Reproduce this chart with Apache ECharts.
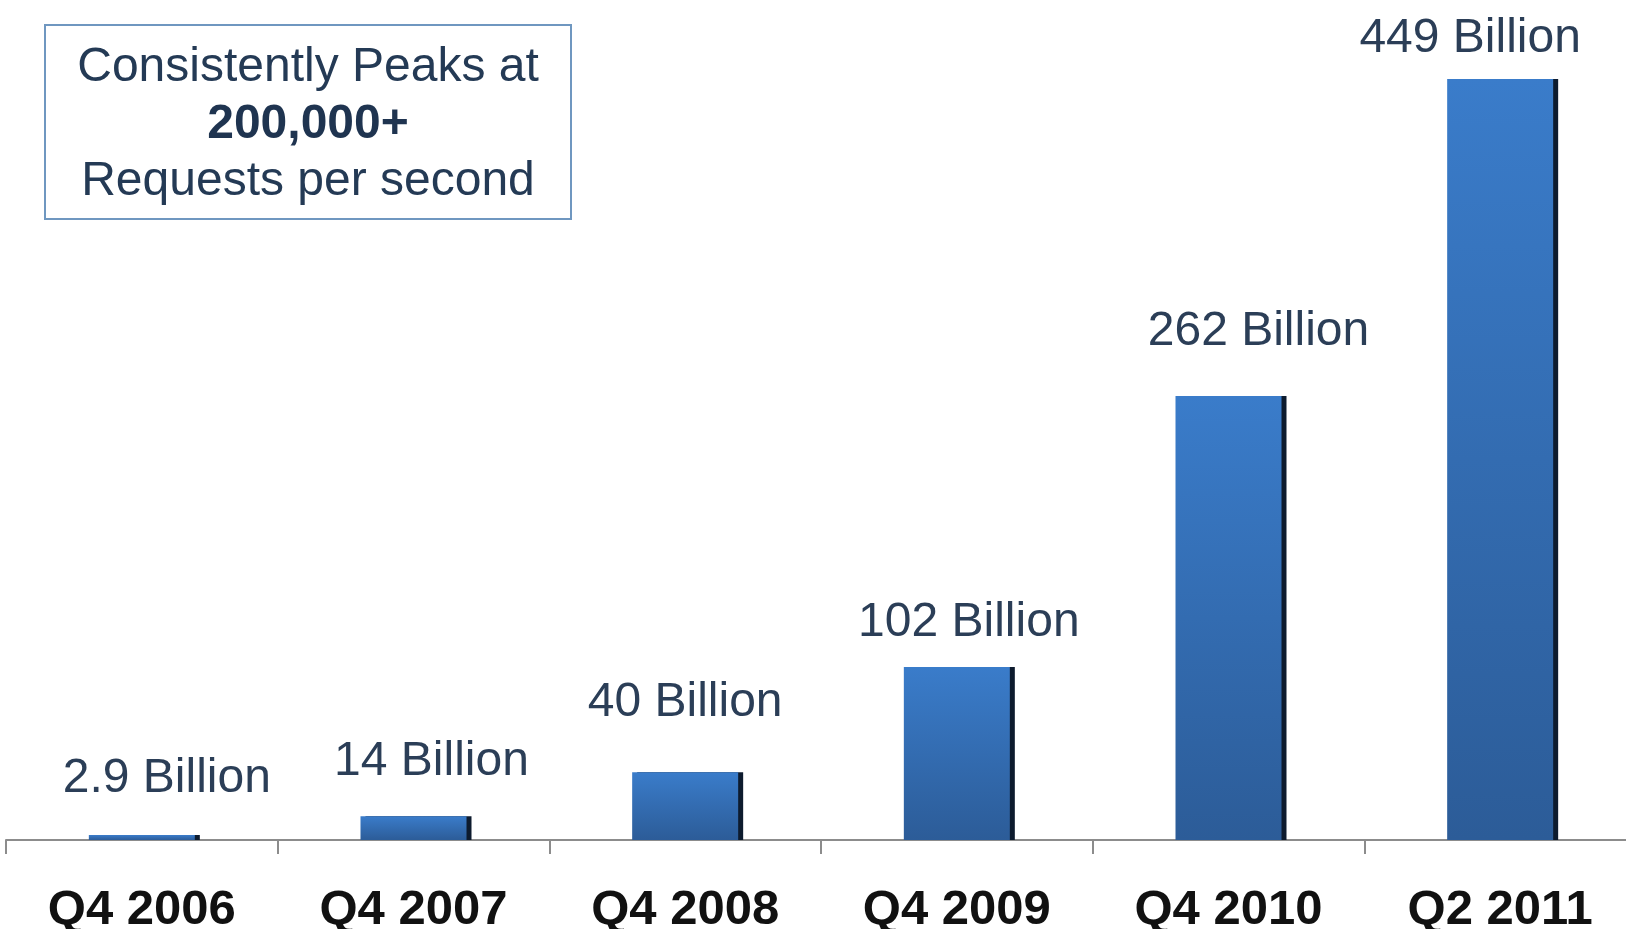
<!DOCTYPE html>
<html>
<head>
<meta charset="utf-8">
<script src="https://cdn.jsdelivr.net/npm/echarts@6/dist/echarts.min.js"></script>
<style>
  html, body { margin: 0; padding: 0; background: #fff; }
  #chart { width: 1626px; height: 929px; }
</style>
</head>
<body>
<div id="chart"></div>
<script>
// quarters on the x axis
const categories = ['Q4 2006', 'Q4 2007', 'Q4 2008', 'Q4 2009', 'Q4 2010', 'Q2 2011']
// objects stored, in billions
const objects = [2.9, 14, 40, 102, 262, 449]
const valueLabels = ['2.9 Billion', '14 Billion', '40 Billion', '102 Billion', '262 Billion', '449 Billion']

// label nudges [dx, dy] so the labels sit like in the slide
const labelNudge = [[25, -32], [18, -31], [0, -45], [12, -20], [30, -40], [-30, -16]]

const chart = echarts.init(document.getElementById('chart'))

chart.setOption({
  backgroundColor: '#fff',
  animation: false,
  grid: {
    left: 6,
    width: 1630,
    top: 40,
    bottom: 89,
    outerBoundsMode: 'none',
    containLabel: false
  },
  xAxis: {
    type: 'category',
    data: categories,
    axisLine: {
      lineStyle: { color: '#8c8c8c', width: 2 }
    },
    axisTick: {
      show: true,
      length: 14,
      lineStyle: { color: '#8c8c8c', width: 2 }
    },
    axisLabel: {
      margin: 46,
      color: '#111',
      fontFamily: 'Liberation Sans',
      fontWeight: 'bold',
      fontSize: 49
    }
  },
  yAxis: {
    type: 'value',
    min: 0,
    max: 472,
    show: false
  },
  graphic: [{
    type: 'group',
    left: 44,
    top: 24,
    children: [{
      type: 'rect',
      shape: { x: 0, y: 0, width: 526, height: 194 },
      style: { fill: '#fff', stroke: '#6f97c0', lineWidth: 2 }
    }, {
      type: 'text',
      x: 263,
      y: 100,
      style: {
        text: '{a|Consistently Peaks at}\n{b|200,000+}\n{a|Requests per second}',
        align: 'center',
        verticalAlign: 'middle',
        rich: {
          a: {
            fontFamily: 'Liberation Sans',
            fontSize: 48,
            lineHeight: 57,
            fill: '#243a55'
          },
          b: {
            fontFamily: 'Liberation Sans',
            fontSize: 48,
            fontWeight: 'bold',
            lineHeight: 57,
            fill: '#1f3450'
          }
        }
      }
    }]
  }],
  series: [{
    type: 'bar',
    barWidth: 106,
    data: objects.map((v, i) => ({
      value: v,
      label: { offset: labelNudge[i] }
    })),
    itemStyle: {
      color: new echarts.graphic.LinearGradient(0, 0, 0, 1, [
        { offset: 0, color: '#3a7cca' },
        { offset: 1, color: '#2c5c98' }
      ]),
      shadowColor: '#0d1b2e',
      shadowOffsetX: 5,
      shadowBlur: 0
    },
    label: {
      show: true,
      position: 'top',
      distance: 0,
      formatter: p => valueLabels[p.dataIndex],
      fontFamily: 'Liberation Sans',
      fontSize: 48,
      color: '#2b3e57'
    }
  }]
})
</script>
</body>
</html>
